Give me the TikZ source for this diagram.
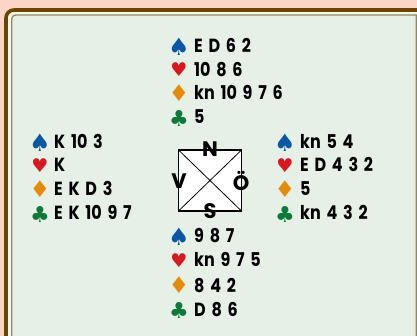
\documentclass[tikz,border=0pt]{standalone}
\usepackage{fontspec}
\setmainfont{Poppins}
\newfontfamily\cardfont{Poppins}[FakeStretch=0.84,WordSpace=1.7,BoldFont={* Bold},BoldFeatures={FakeStretch=0.84,WordSpace=1.7}]
\newfontfamily\suitfont{DejaVu Sans}
\definecolor{bgpink}{HTML}{FAD5C8}
\definecolor{panel}{HTML}{E6F0E7}
\definecolor{gapc}{HTML}{F2F6EE}
\definecolor{brownc}{HTML}{6B4400}
\definecolor{olivec}{HTML}{948759}
\definecolor{spadec}{HTML}{0B57A4}
\definecolor{heartc}{HTML}{D7191F}
\definecolor{diamc}{HTML}{E68A0C}
\definecolor{clubc}{HTML}{0E7A3A}
\tikzset{
 cards/.style={anchor=base west,inner sep=0pt,font=\fontsize{19}{19}\cardfont\bfseries,text=black},
 suit/.style={anchor=center,inner sep=0pt},
 spadesuit/.style={suit,text=spadec,font=\fontsize{24}{24}\suitfont},
 heartsuit/.style={suit,text=heartc,font=\fontsize{19}{19}\suitfont},
 diamsuit/.style={suit,text=diamc,font=\fontsize{23}{23}\suitfont},
 clubsuit/.style={suit,text=clubc,font=\fontsize{22}{22}\suitfont},
 compass/.style={anchor=center,inner sep=0pt,font=\fontsize{21}{21}\selectfont\bfseries,text=black},
}
\begin{document}
\begin{tikzpicture}[x=1pt,y=-1pt]
\useasboundingbox (0,0) rectangle (417,336);
\fill[bgpink] (0,0) rectangle (417,336);
\draw[brownc,line width=3.6pt,fill=gapc] (6,360) -- (6,18) arc[start angle=180,end angle=270,radius=8] -- (440,10) -- (440,360) -- cycle;
\draw[olivec,line width=1.3pt,fill=panel] (11.7,360) -- (11.7,19) arc[start angle=180,end angle=270,radius=4] -- (416.3,15) -- (416.3,360) -- cycle;
% north
\node[spadesuit] (ns) at (179,47) {♠}; \node[cards] (nst) at (194,52.5) {E D 6 2};
\node[heartsuit] (nh) at (179,70) {♥}; \node[cards] (nht) at (194,76.5) {10 8 6};
\node[diamsuit] (nd) at (179,93) {♦}; \node[cards] (ndt) at (194,100) {kn 10 9 7 6};
\node[clubsuit] (nc) at (179,118) {♣}; \node[cards] (nct) at (194,124) {5};
% west
\node[spadesuit] (ws) at (40,143) {♠}; \node[cards] (wst) at (54,148.5) {K 10 3};
\node[heartsuit] (wh) at (40,166) {♥}; \node[cards] (wht) at (54,172) {K};
\node[diamsuit] (wd) at (40,189) {♦}; \node[cards] (wdt) at (54,196) {E K D 3};
\node[clubsuit] (wc) at (40,214) {♣}; \node[cards] (wct) at (54,220) {E K 10 9 7};
% east
\node[spadesuit] (es) at (285,143) {♠}; \node[cards] (est) at (300,148.5) {kn 5 4};
\node[heartsuit] (eh) at (285,166) {♥}; \node[cards] (eht) at (300,172) {E D 4 3 2};
\node[diamsuit] (ed) at (285,189) {♦}; \node[cards] (edt) at (300,196) {5};
\node[clubsuit] (ec) at (285,214) {♣}; \node[cards] (ect) at (300,220) {kn 4 3 2};
% south
\node[spadesuit] (ss) at (179,237) {♠}; \node[cards] (sst) at (194,243) {9 8 7};
\node[heartsuit] (sh) at (179,261) {♥}; \node[cards] (sht) at (194,267) {kn 9 7 5};
\node[diamsuit] (sd) at (179,285) {♦}; \node[cards] (sdt) at (194,292) {8 4 2};
\node[clubsuit] (sc) at (179,310) {♣}; \node[cards] (sct) at (194,316) {D 8 6};
% table
\coordinate (tl) at (178.5,150); \coordinate (tr) at (241.5,150);
\coordinate (bl) at (178.5,211); \coordinate (br) at (241.5,211);
\draw[fill=white,line width=1.2pt] (tl) -- (tr) -- (br) -- (bl) -- cycle;
\draw[line width=0.8pt] (tl) -- (br) (tr) -- (bl);
\node[compass] (N) at (210,149.5) {N};
\node[compass] (S) at (210,211) {S};
\node[compass] (V) at (179,181) {V};
\node[compass] (O) at (241,180.5) {Ö};
\end{tikzpicture}
\end{document}
